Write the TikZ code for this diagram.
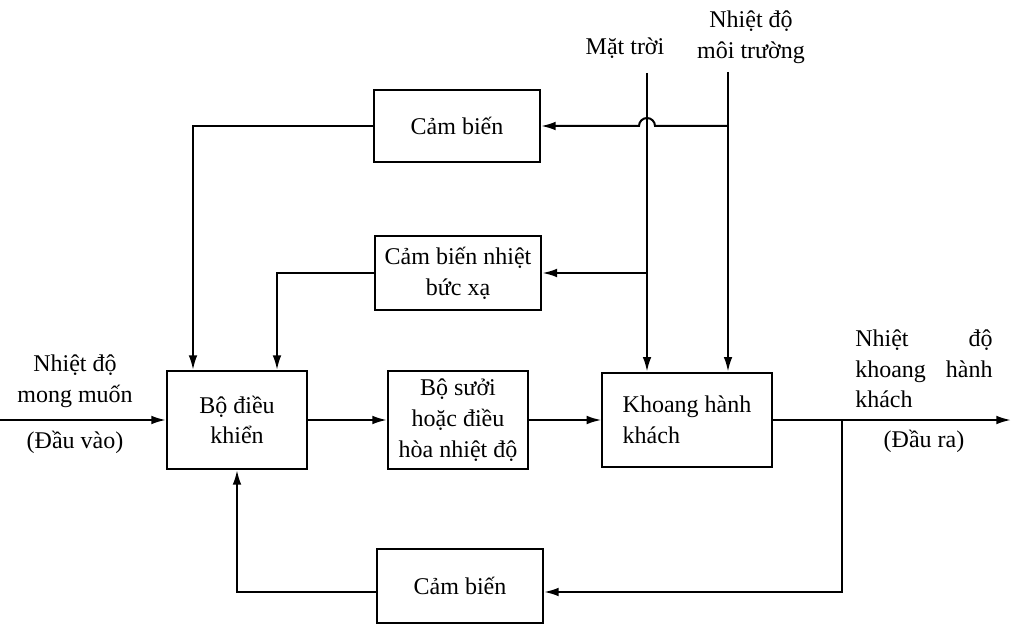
\documentclass[tikz,border=0pt]{standalone}
\usepackage{fontspec}
\setmainfont{Liberation Serif}
\usetikzlibrary{arrows.meta,calc}
\begin{document}
\begin{tikzpicture}[x=0.75pt,y=-0.75pt,
 every node/.style={font=\fontsize{18}{23}\selectfont},
 box/.style={draw,line width=1.5pt,fill=white,align=center,inner sep=2pt},
 conn/.style={line width=1.5pt},
 arr/.style={conn,-{Latex[length=11pt,width=6.5pt]}},
 lbl/.style={align=center,inner sep=0pt}]
\useasboundingbox[fill=white] (0,0) rectangle (1013,627);
% blocks
\node[box,minimum width=124.5pt,minimum height=54pt] (cb1) at (457,126) {Cảm biến};
\node[box,minimum width=125pt,minimum height=55.5pt] (cb2) at (458,273) {Cảm biến nhiệt\\bức xạ};
\node[box,minimum width=105pt,minimum height=73.5pt] (dk) at (237,420) {Bộ điều\\khiển};
\node[box,minimum width=105pt,minimum height=74pt] (bs) at (458,420) {Bộ sưởi\\hoặc điều\\hòa nhiệt độ};
\node[box,minimum width=127pt,minimum height=71pt,align=left] (kh) at (687,420) {Khoang hành\\khách};
\node[box,minimum width=124.5pt,minimum height=55pt] (cb3) at (460,586) {Cảm biến};
% free ends
\coordinate (in) at (0,420);
\coordinate (sun) at (647,73);
\coordinate (env) at (728,72);
\coordinate (br) at (842,420);
\coordinate (out) at (1011,420);
% connectors
\draw[arr] (in) -- (dk.west);
\draw[arr] (dk.east) -- (bs.west);
\draw[arr] (bs.east) -- (kh.west);
\draw[arr] (kh.east) -- (out);
\draw[arr] (br) |- ([yshift=-4.5pt]cb3.east);
\draw[arr] ([yshift=-4.5pt]cb3.west) -| (dk.south);
\draw[arr] (cb1.west) -| ([xshift=-33pt]dk.north);
\draw[arr] (cb2.west) -| ([xshift=30pt]dk.north);
\draw[arr] (sun) -- (sun |- kh.north);
\draw[arr] (env) -- (env |- kh.north);
\draw[arr] (sun |- cb2.east) -- (cb2.east);
\draw[arr] (env |- cb1.east) -- ([xshift=6pt]sun |- cb1.east) arc[start angle=0,end angle=180,radius=6pt] -- (cb1.east);
% labels
\node[lbl] (ls) at (625,48) {Mặt trời};
\node[lbl] (le) at (751,37) {Nhiệt độ\\môi trường};
\node[lbl] (lin) at (75,381) {Nhiệt độ\\mong muốn};
\node[lbl] (lin2) at (75,442) {(Đầu vào)};
\node[lbl,align=left,anchor=west] (lout) at (855,369) {\makebox[103pt][s]{Nhiệt độ}\\\makebox[103pt][s]{khoang hành}\\khách};
\node[lbl] (lout2) at (924,441) {(Đầu ra)};
\end{tikzpicture}
\end{document}
